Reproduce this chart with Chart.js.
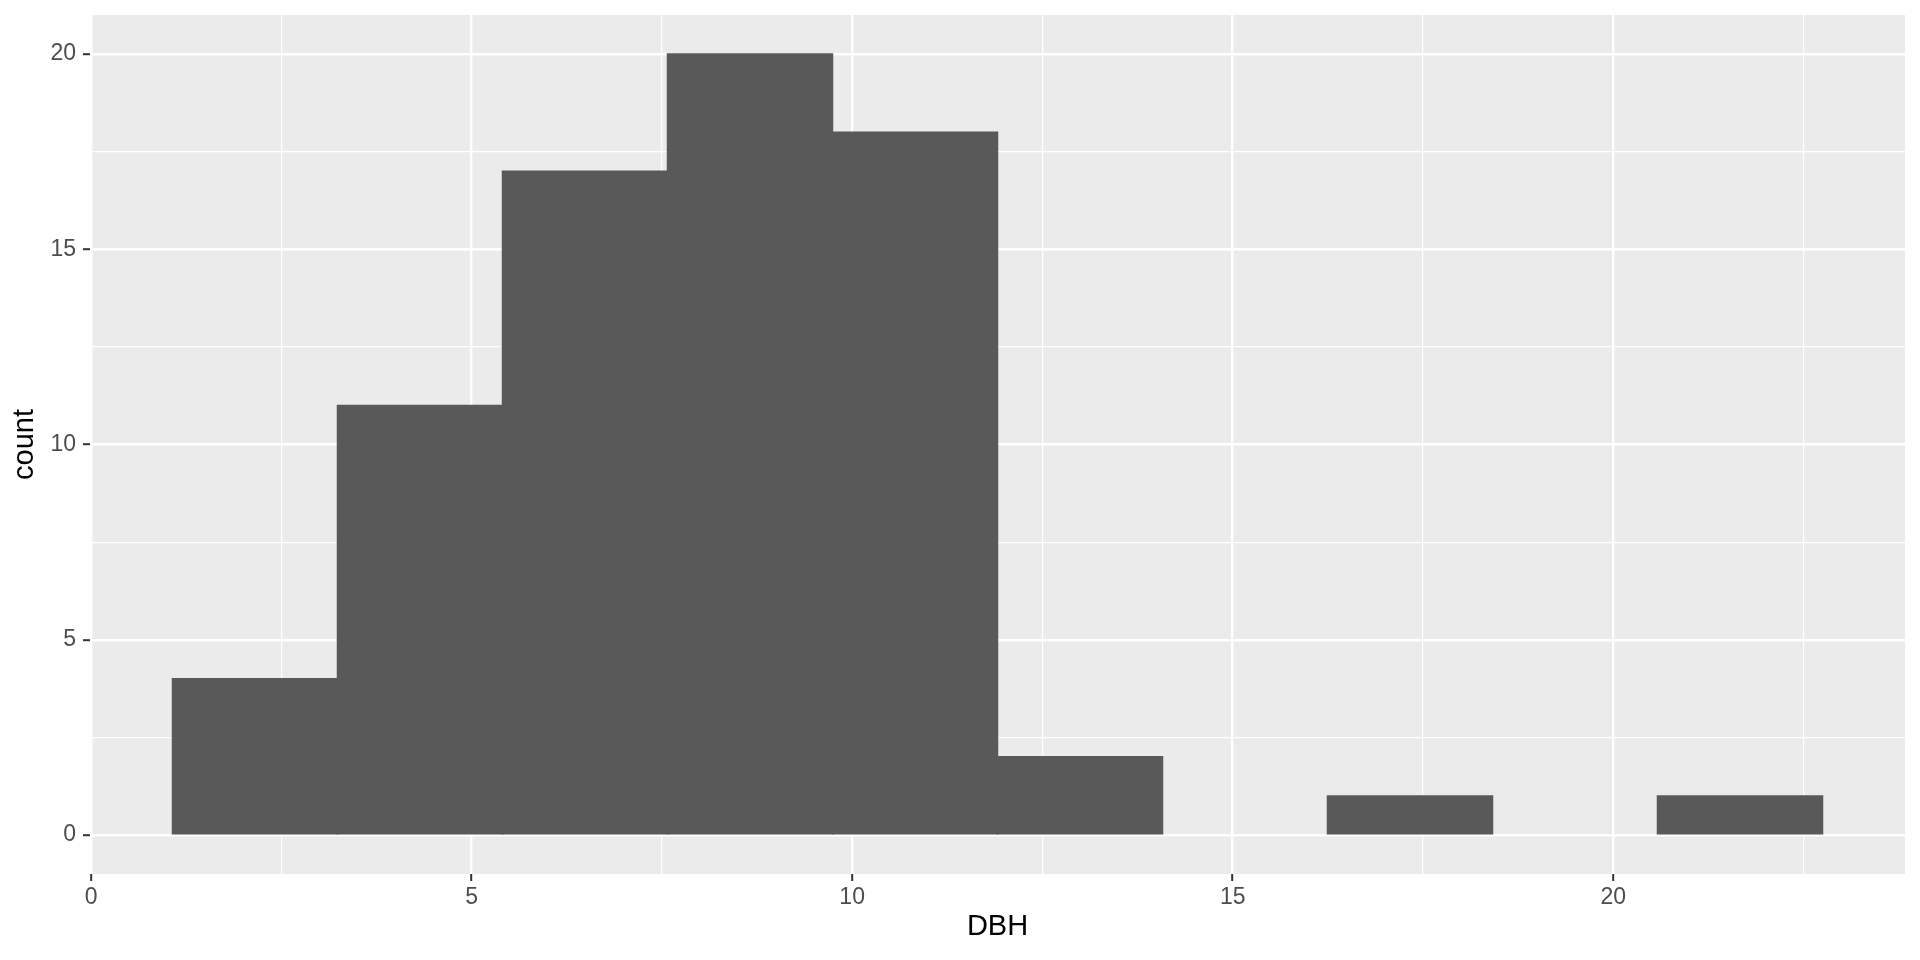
<!DOCTYPE html>
<html>
<head>
<meta charset="utf-8">
<script src="https://cdn.jsdelivr.net/npm/chart.js@4.4.1/dist/chart.umd.min.js"></script>
<style>
    html, body { margin: 0; padding: 0; background: #ffffff; }
    #wrap { width: 1920px; height: 960px; }
</style>
</head>
<body>
<div id="wrap"><canvas id="histChart" width="1920" height="960"></canvas></div>
<script>
// histogram bins of DBH (bin centres, width ~2.168)
const binCenters = [2.154, 4.322, 6.490, 8.658, 10.826, 12.994, 15.162, 17.330, 19.498, 21.666]
const counts = [4, 11, 17, 20, 18, 2, 0, 1, 0, 1]

const xRange = [-0.014, 23.834]
const yRange = [-1, 21]
const xTicks = [0, 2.5, 5, 7.5, 10, 12.5, 15, 17.5, 20, 22.5]
const yTicks = [0, 2.5, 5, 7.5, 10, 12.5, 15, 17.5, 20]

const isMajor = v => Math.abs(v % 5) < 1e-9

const panelBg = {
    id: 'panelBg',
    beforeDraw(chart) {
        const { ctx, chartArea: a } = chart
        ctx.save()
        ctx.fillStyle = '#ebebeb'
        ctx.fillRect(a.left, a.top, a.right - a.left, a.bottom - a.top)
        ctx.restore()
    },
}

function gridOpts() {
    return {
        color: '#ffffff',
        lineWidth: c => (c.tick && isMajor(c.tick.value) ? 2.4 : 1.2),
        tickColor: c => (c.tick && isMajor(c.tick.value) ? '#333333' : 'rgba(0,0,0,0)'),
        tickWidth: 2,
        tickLength: 7,
        drawOnChartArea: true,
        offset: false,
    }
}

const ctx = document.getElementById('histChart').getContext('2d')
new Chart(ctx, {
    type: 'bar',
    data: {
        datasets: [{
            label: 'count',
            // empty bins are not drawn at all
            data: binCenters.map((x, i) => ({ x, y: counts[i] === 0 ? null : counts[i] })),
            backgroundColor: '#595959',
            borderWidth: 0,
            inflateAmount: 0.75,
            barPercentage: 1,
            categoryPercentage: 1,
        }],
    },
    options: {
        responsive: false,
        animation: false,
        layout: { padding: { top: 15, right: 15, left: 0, bottom: 0 } },
        plugins: {
            legend: { display: false },
            tooltip: { enabled: false },
        },
        scales: {
            x: {
                type: 'linear',
                offset: false,
                min: xRange[0],
                max: xRange[1],
                afterBuildTicks: s => { s.ticks = xTicks.map(value => ({ value })) },
                afterFit: s => {
                    s.height = 86
                    s.paddingLeft = 0
                    s.paddingRight = 0
                },
                border: { display: false },
                grid: gridOpts(),
                ticks: {
                    color: '#4d4d4d',
                    font: { family: 'Liberation Sans, Arial, sans-serif', size: 23 },
                    padding: 3,
                    maxRotation: 0,
                    autoSkip: false,
                    callback: v => (isMajor(v) ? String(v) : ''),
                },
                title: {
                    display: true,
                    text: 'DBH',
                    color: '#000000',
                    font: { family: 'Liberation Sans, Arial, sans-serif', size: 29 },
                    padding: { top: 0, bottom: 16 },
                },
            },
            y: {
                type: 'linear',
                min: yRange[0],
                max: yRange[1],
                afterBuildTicks: s => { s.ticks = yTicks.map(value => ({ value })) },
                afterFit: s => {
                    s.width = 90
                    s.paddingTop = 0
                    s.paddingBottom = 0
                },
                border: { display: false },
                grid: gridOpts(),
                ticks: {
                    color: '#4d4d4d',
                    font: { family: 'Liberation Sans, Arial, sans-serif', size: 23 },
                    padding: 7,
                    autoSkip: false,
                    callback: v => (isMajor(v) ? String(v) : ''),
                },
                title: {
                    display: true,
                    text: 'count',
                    color: '#000000',
                    font: { family: 'Liberation Sans, Arial, sans-serif', size: 29 },
                    padding: { top: 8, bottom: 0 },
                },
            },
        },
    },
    plugins: [panelBg],
})
</script>
</body>
</html>
